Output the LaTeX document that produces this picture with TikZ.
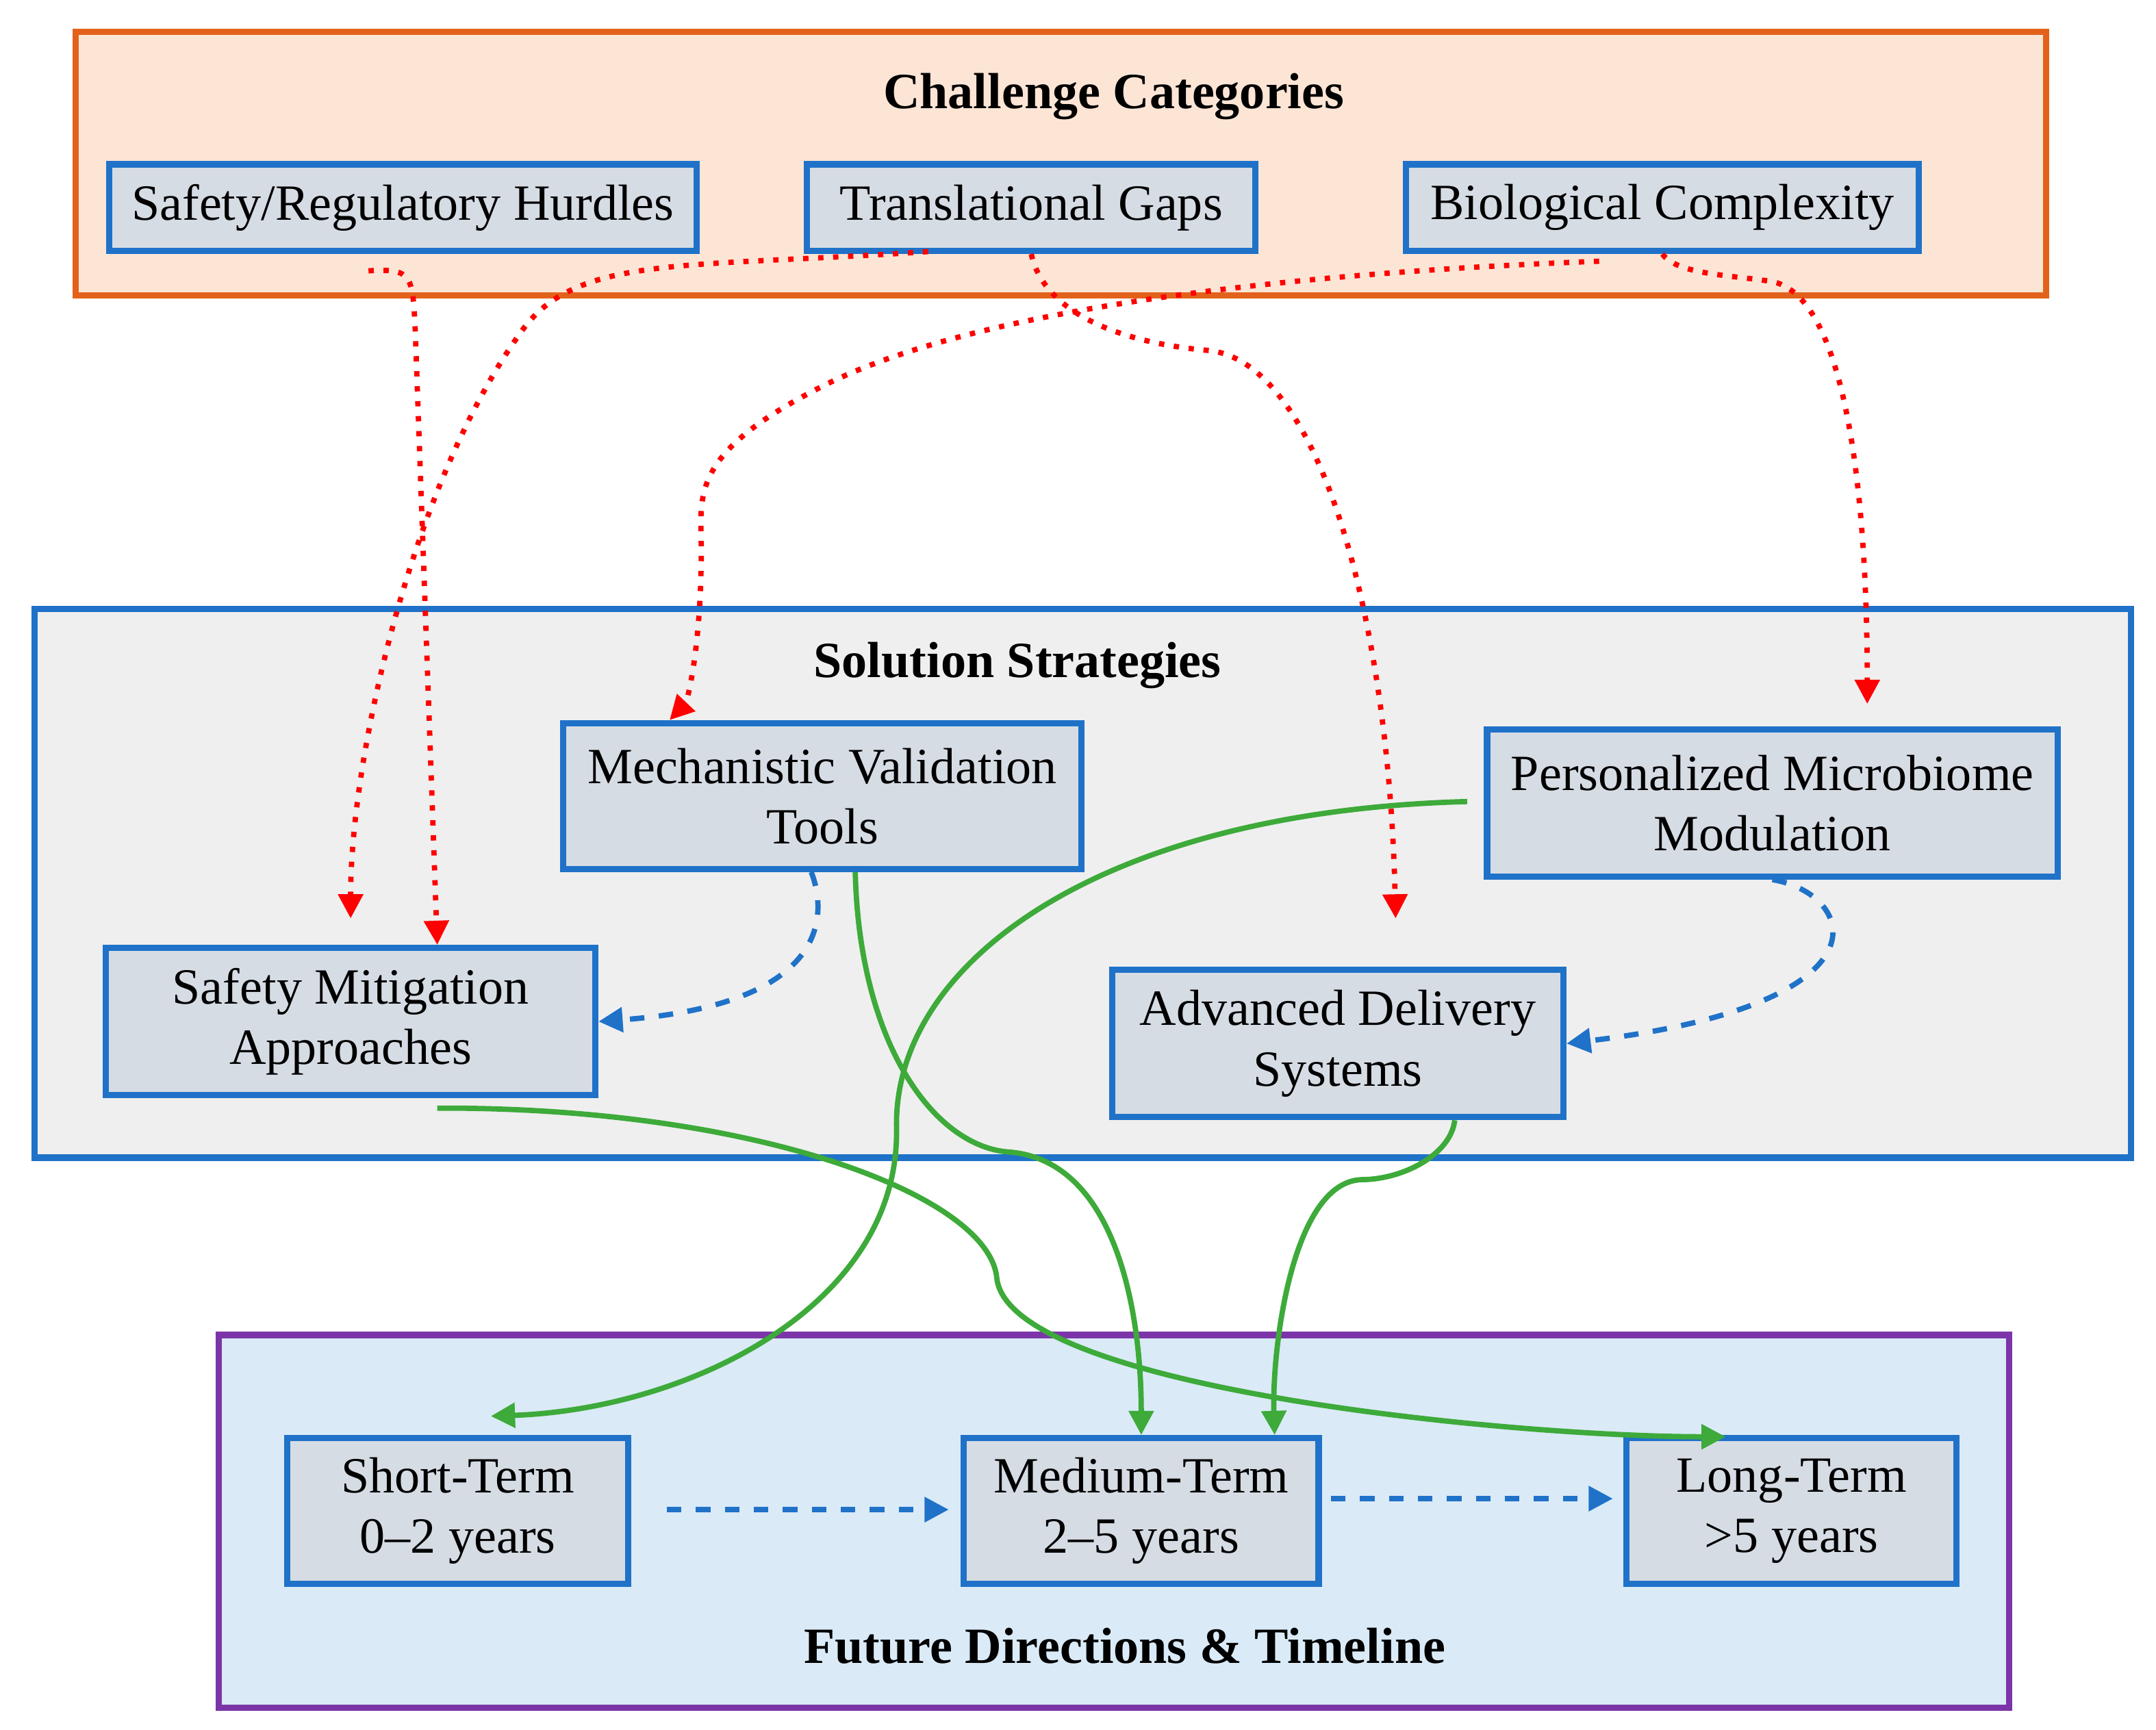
\documentclass[tikz,border=0pt]{standalone}
\usepackage{fontspec}
\setmainfont{Liberation Serif}
\usetikzlibrary{arrows.meta}
\definecolor{orB}{HTML}{E2621B}\definecolor{orF}{HTML}{FDE5D6}
\definecolor{blB}{HTML}{1F72C8}\definecolor{grF}{HTML}{EFEFEF}
\definecolor{puB}{HTML}{7B35A8}\definecolor{ltB}{HTML}{DAEAF7}
\definecolor{ndF}{HTML}{D6DCE4}\definecolor{gr}{HTML}{3DAA3A}
\begin{document}
\begin{tikzpicture}[x=0.1mm,y=-0.1mm,
 grp/.style={line width=1.3pt},
 box/.style={draw=blB,fill=ndF,line width=1.3pt,align=center,font=\fontsize{10.5}{12.5}\selectfont},
 ttl/.style={font=\bfseries\fontsize{10.5}{12}\selectfont},
 red/.style={draw=red,line width=1.1pt,dotted,-{Triangle[width=5pt,length=5pt]}},
 blu/.style={draw=blB,line width=1.1pt,dashed,-{Triangle[width=5pt,length=5pt]}},
 grn/.style={draw=gr,line width=1.1pt,-{Triangle[width=5pt,length=5pt]}}]
\useasboundingbox (0,0) rectangle (1568,1258);
\draw[grp,draw=orB,fill=orF] (55,23) rectangle (1488,215);
\draw[grp,draw=blB,fill=grF] (25,443) rectangle (1550,842);
\draw[grp,draw=puB,fill=ltB] (159,971) rectangle (1461,1242);
\node[ttl] (t1) at (810,70) {Challenge Categories};
\node[ttl] (t2) at (740,484) {Solution Strategies};
\node[ttl] (t3) at (818,1197) {Future Directions \& Timeline};
\newcommand\bx[4]{\path[box] (#2) rectangle (#3); \node[align=center,font=\fontsize{10.5}{12.5}\selectfont] (#1) at ($(#2)!0.5!(#3)$) {#4};}
\node[box,minimum width=427*0.1mm,minimum height=63*0.1mm] (srh) at (293,151) {Safety/Regulatory Hurdles};
\node[box,minimum width=326*0.1mm,minimum height=63*0.1mm] (tg) at (750,151) {Translational Gaps};
\node[box,minimum width=373*0.1mm,minimum height=63*0.1mm] (bc) at (1209,151) {Biological Complexity};
\node[box,minimum width=377*0.1mm,minimum height=106*0.1mm] (mv) at (598,579) {Mechanistic Validation\\Tools};
\node[box,minimum width=415*0.1mm,minimum height=107*0.1mm] (pm) at (1289,584) {Personalized Microbiome\\Modulation};
\node[box,minimum width=356*0.1mm,minimum height=107*0.1mm] (sm) at (255,743) {Safety Mitigation\\Approaches};
\node[box,minimum width=328*0.1mm,minimum height=107*0.1mm] (ad) at (973,759) {Advanced Delivery\\Systems};
\node[box,minimum width=248*0.1mm,minimum height=106*0.1mm] (st) at (333,1099) {Short-Term\\0--2 years};
\node[box,minimum width=258*0.1mm,minimum height=106*0.1mm] (mt) at (830,1099) {Medium-Term\\2--5 years};
\node[box,minimum width=240*0.1mm,minimum height=106*0.1mm] (lt) at (1303,1099) {Long-Term\\>5 years};
% red
\coordinate (r1) at (268,197);
\draw[red] (r1) .. controls (300,195) and (300,200) .. (302,240) -- (sm.north -| 318,0);
\coordinate (r2s) at (675,183); \coordinate (r2e) at (255,668);
\draw[red] (r2s) .. controls (500,195) and (420,185) .. (380,240) .. controls (300,350) and (255,550) .. (r2e);
\coordinate (r3s) at (1163,190);
\draw[red] (r3s) .. controls (900,200) and (700,230) .. (600,280) .. controls (500,330) and (510,360) .. (510,400) .. controls (510,470) and (500,510) .. (mv.north -| 487,0);
\coordinate (r4e) at (1015,668);
\draw[red] (tg.south) .. controls (760,230) and (820,250) .. (880,255) .. controls (960,265) and (1010,450) .. (r4e);
\coordinate (r5e) at (1358,512);
\draw[red] (bc.south) .. controls (1220,200) and (1260,200) .. (1290,205) .. controls (1350,220) and (1358,400) .. (r5e);
% blue dashed
\draw[blu] (mv.south -| 590,0) .. controls (600,660) and (610,730) .. (sm.east);
\draw[blu] (pm.south) .. controls (1350,650) and (1380,730) .. (ad.east);
\coordinate (b1) at (485,1098); \coordinate (b2) at (690,1098);
\draw[blu] (b1) -- (b2);
\coordinate (b3) at (968,1090); \coordinate (b4) at (1173,1090);
\draw[blu] (b3) -- (b4);
% green
\coordinate (g1) at (1067,583); \coordinate (g1e) at (357,1030);
\draw[grn] (g1) .. controls (800,590) and (650,700) .. (652,820) .. controls (655,950) and (500,1025) .. (g1e);
\draw[grn] (mv.south -| 622,0) .. controls (625,760) and (680,835) .. (735,838) .. controls (810,845) and (830,950) .. (mt.north);
\coordinate (g3) at (318,806); \coordinate (g3e) at (1255,1045);
\draw[grn] (g3) .. controls (550,805) and (720,870) .. (725,930) .. controls (735,1010) and (1100,1045) .. (g3e);
\draw[grn] (ad.south -| 1058,0) .. controls (1055,840) and (1020,858) .. (990,858) .. controls (940,860) and (925,980) .. (mt.north -| 927,0);
\end{tikzpicture}
\end{document}
